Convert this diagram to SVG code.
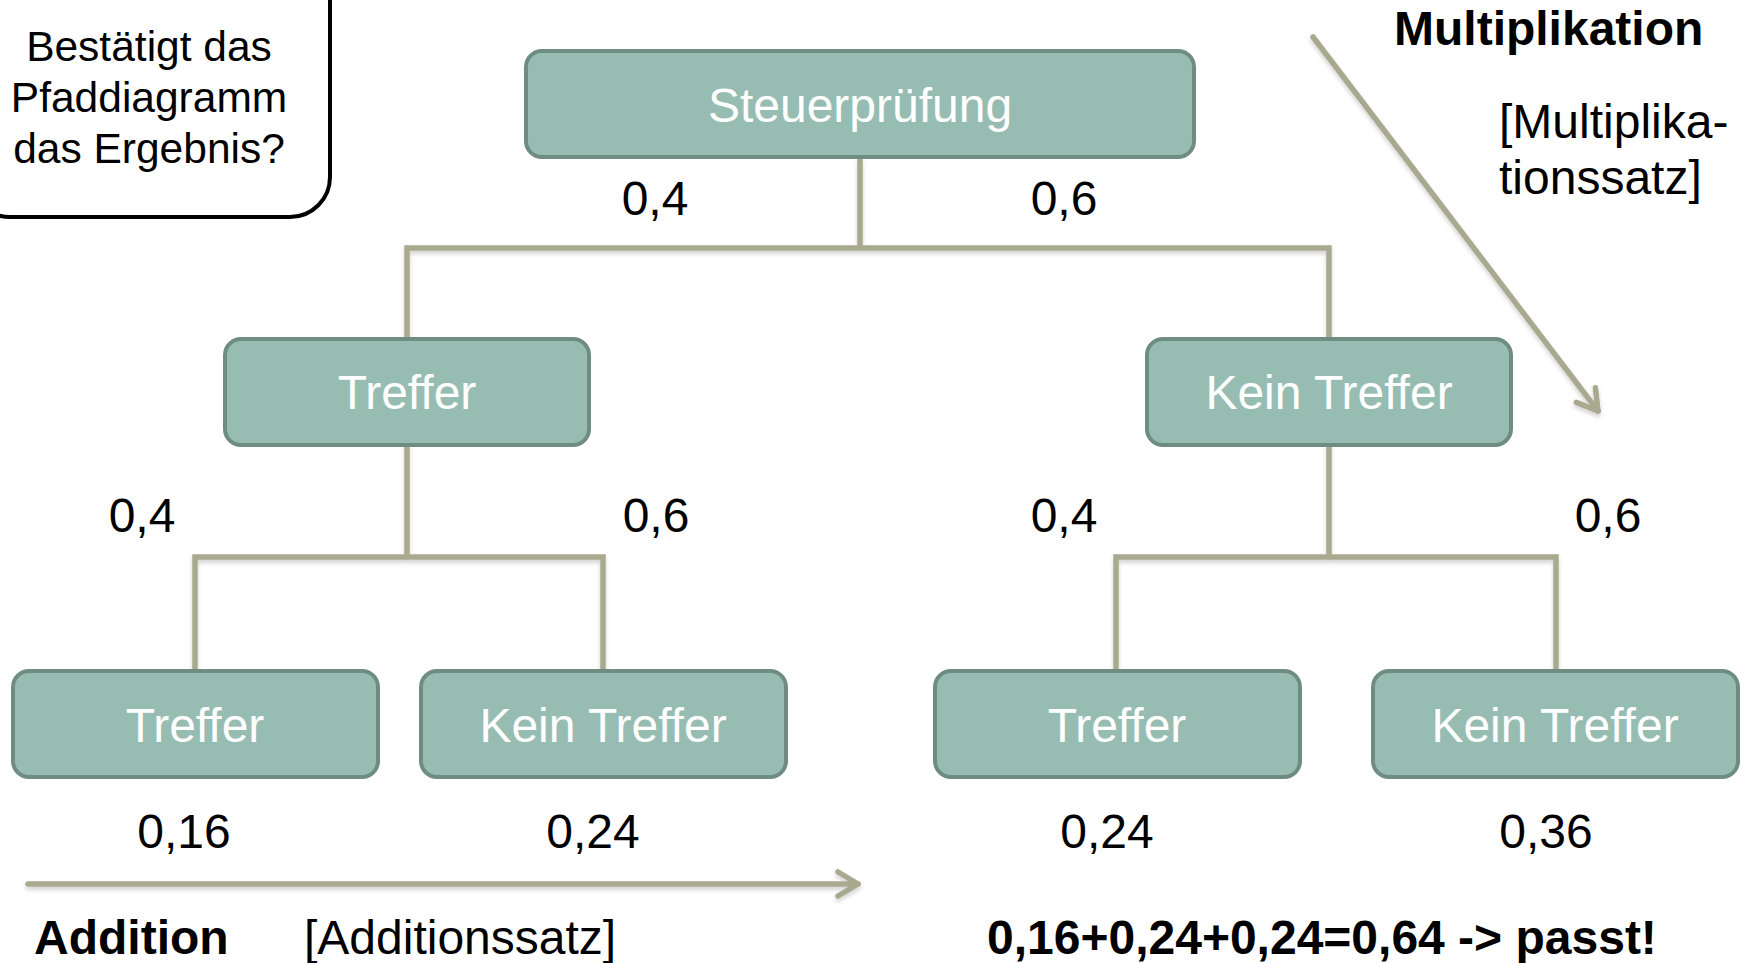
<svg xmlns="http://www.w3.org/2000/svg" width="1748" height="963" viewBox="0 0 1748 963">
  <style>
    .box { fill: #97bdb3; stroke: #6f8c83; stroke-width: 4; }
    .ntext { font-family: "Liberation Sans", Arial, sans-serif; font-size: 48px; fill: #ffffff; text-anchor: middle; }
    .lbl { font-family: "Liberation Sans", Arial, sans-serif; font-size: 48px; fill: #000000; text-anchor: middle; }
    .txt { font-family: "Liberation Sans", Arial, sans-serif; font-size: 48px; fill: #000000; }
    .qtxt { font-family: "Liberation Sans", Arial, sans-serif; font-size: 42.5px; fill: #000000; text-anchor: middle; }
    .bold { font-weight: bold; }
    .conn { fill: none; stroke: #a9a98f; stroke-width: 5.5; stroke-linejoin: miter; }
    .arrow { fill: none; stroke: #a9a98f; stroke-width: 5.5; stroke-linecap: round; }
  </style>
  <defs>
    <filter id="shadow" x="-10%" y="-10%" width="120%" height="130%">
      <feDropShadow dx="0" dy="3" stdDeviation="2" flood-color="#000000" flood-opacity="0.18"/>
    </filter>
    <marker id="chev" markerUnits="userSpaceOnUse" markerWidth="40" markerHeight="40" refX="0" refY="0" orient="auto" overflow="visible">
      <path d="M -20,-12 L 0,0 L -20,12" fill="none" stroke="#a9a98f" stroke-width="5.5" stroke-linecap="round" stroke-linejoin="round"/>
    </marker>
  </defs>
  <rect width="1748" height="963" fill="#ffffff"/>

  <g id="connectors" filter="url(#shadow)">
    <path class="conn" d="M 860,157 V 248 M 407,338 V 248 H 1329 V 338"/>
    <path class="conn" d="M 407,445 V 557 M 195,670 V 557 H 603 V 670"/>
    <path class="conn" d="M 1329,445 V 557 M 1116,670 V 557 H 1556 V 670"/>
    <line class="arrow" x1="1313" y1="37" x2="1598" y2="411" marker-end="url(#chev)"/>
    <line class="arrow" x1="28" y1="884" x2="858" y2="884" marker-end="url(#chev)"/>
  </g>

  <g id="question">
    <rect x="-30" y="-40" width="360" height="257" rx="40" ry="40" fill="#ffffff" stroke="#000000" stroke-width="4"/>
    <text class="qtxt" x="149" y="61">Bestätigt das</text>
    <text class="qtxt" x="149" y="112">Pfaddiagramm</text>
    <text class="qtxt" x="149" y="163">das Ergebnis?</text>
  </g>

  <g id="n-root">
    <rect class="box" x="526" y="51" width="668" height="106" rx="16"/>
    <text class="ntext" x="860" y="122">Steuerprüfung</text>
  </g>
  <g id="n-treffer">
    <rect class="box" x="225" y="339" width="364" height="106" rx="16"/>
    <text class="ntext" x="407" y="409">Treffer</text>
  </g>
  <g id="n-kein">
    <rect class="box" x="1147" y="339" width="364" height="106" rx="16"/>
    <text class="ntext" x="1329" y="409">Kein Treffer</text>
  </g>
  <g id="n-tt">
    <rect class="box" x="13" y="671" width="365" height="106" rx="16"/>
    <text class="ntext" x="195" y="742">Treffer</text>
  </g>
  <g id="n-tk">
    <rect class="box" x="421" y="671" width="365" height="106" rx="16"/>
    <text class="ntext" x="603" y="742">Kein Treffer</text>
  </g>
  <g id="n-kt">
    <rect class="box" x="935" y="671" width="365" height="106" rx="16"/>
    <text class="ntext" x="1117" y="742">Treffer</text>
  </g>
  <g id="n-kk">
    <rect class="box" x="1373" y="671" width="365" height="106" rx="16"/>
    <text class="ntext" x="1555" y="742">Kein Treffer</text>
  </g>

  <g id="labels">
    <text class="lbl" x="655" y="215">0,4</text>
    <text class="lbl" x="1064" y="215">0,6</text>
    <text class="lbl" x="142" y="532">0,4</text>
    <text class="lbl" x="656" y="532">0,6</text>
    <text class="lbl" x="1064" y="532">0,4</text>
    <text class="lbl" x="1608" y="532">0,6</text>
    <text class="lbl" x="184" y="848">0,16</text>
    <text class="lbl" x="593" y="848">0,24</text>
    <text class="lbl" x="1107" y="848">0,24</text>
    <text class="lbl" x="1546" y="848">0,36</text>
    <text class="txt bold" x="1394" y="45">Multiplikation</text>
    <text class="txt" x="1499" y="138">[Multiplika-</text>
    <text class="txt" x="1499" y="194">tionssatz]</text>
    <text class="txt bold" x="34" y="954">Addition</text>
    <text class="txt" x="304" y="954">[Additionssatz]</text>
    <text class="txt bold" x="987" y="954">0,16+0,24+0,24=0,64 -&gt; passt!</text>
  </g>
</svg>
